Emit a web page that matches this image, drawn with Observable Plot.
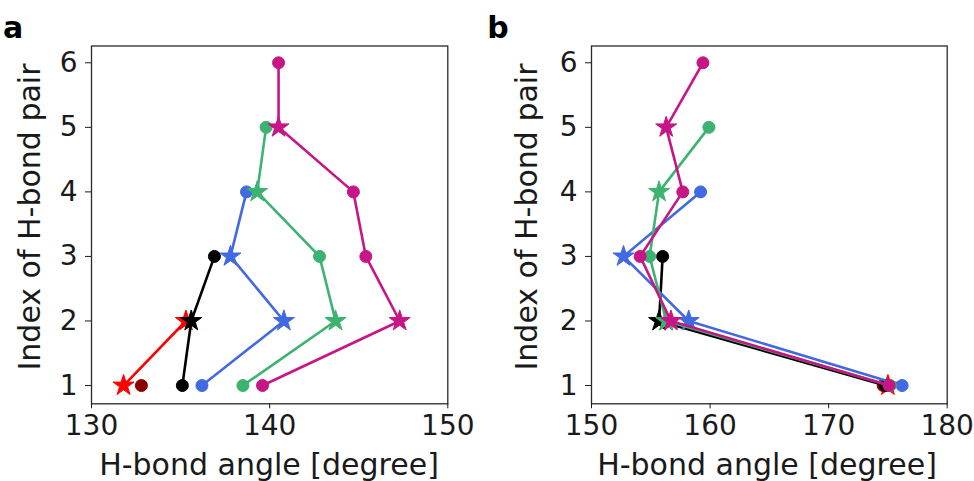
<!DOCTYPE html>
<html><head><meta charset="utf-8">
<script src="https://cdn.jsdelivr.net/npm/d3@7"></script>
<script src="https://cdn.jsdelivr.net/npm/@observablehq/plot@0.6"></script>
<style>
body{margin:0;background:#fff;}
#wrap{display:flex;width:974px;height:481px;overflow:hidden;}
</style></head><body><div id="wrap"></div>
<script>
// Series colours (drawing order: red, dark red, black, blue, green, magenta)
const seriesNames = ["red", "darkred", "black", "blue", "green", "magenta"];
const seriesColors = ["#ff0000", "#8b0000", "#000000", "#4169e1", "#3cb371", "#c71585"];
const pairIndex = [1, 2, 3, 4, 5, 6];
const yTicks = [1, 2, 3, 4, 5, 6];

// Marker type for each point of each series (index 1..n)
const symRed = ["star", "star"];
const symDarkred = ["circle"];
const symBlack = ["circle", "star", "circle"];
const symBlue = ["circle", "star", "star", "circle"];
const symGreen = ["circle", "star", "circle", "star", "circle"];
const symMagenta = ["circle", "star", "circle", "circle", "star", "circle"];

// Panel a: H-bond angles (degree)
const aRed = [131.8, 135.3];
const aDarkred = [132.8];
const aBlack = [135.1, 135.6, 136.9];
const aBlue = [136.2, 140.8, 137.8, 138.7];
const aGreen = [138.5, 143.7, 142.8, 139.3, 139.8];
const aMagenta = [139.6, 147.3, 145.4, 144.7, 140.5, 140.5];
const aTicks = [130, 140, 150];

// Panel b: H-bond angles (degree)
const bRed = [175.0, 156.3];
const bDarkred = [174.6];
const bBlack = [174.8, 155.7, 156.0];
const bBlue = [176.2, 158.2, 152.7, 159.2];
const bGreen = [175.2, 156.3, 154.9, 155.7, 159.9];
const bMagenta = [175.1, 156.7, 154.1, 157.7, 156.3, 159.4];
const bTicks = [150, 160, 170, 180];

const xLabel = "H-bond angle [degree]";
const yLabel = "Index of H-bond pair";

const symbols = [symRed, symDarkred, symBlack, symBlue, symGreen, symMagenta];

function seriesMarks(values) {
  const marks = [];
  values.forEach((vals, s) => {
    const rows = vals.map((v, i) => ({x: v, y: pairIndex[i], sym: symbols[s][i]}));
    const c = seriesColors[s];
    marks.push(Plot.line(rows, {x: "x", y: "y", stroke: c, strokeWidth: 2.6}));
    marks.push(Plot.dot(rows.filter(d => d.sym === "circle"), {x: "x", y: "y", r: 6, fill: c, stroke: c, strokeWidth: 1}));
    marks.push(Plot.dot(rows.filter(d => d.sym === "star"), {x: "x", y: "y", symbol: "star", r: 6.6, fill: c, stroke: c, strokeWidth: 1}));
  });
  return marks;
}

function panel({values, domain, ticks, width, marginLeft, marginRight, letter, letterX, yLabX, xLabCx}) {
  const svg = Plot.plot({
    width, height: 481,
    marginLeft, marginRight, marginTop: 45.5, marginBottom: 77.7,
    style: {fontFamily: "DejaVu Sans", fontSize: "28px", color: "#1a1a1a", background: "#fff"},
    x: {domain, ticks},
    y: {domain: [0.717, 6.26], ticks: yTicks},
    marks: [
      Plot.frame({stroke: "#2a2a2a", strokeWidth: 1.3}),
      Plot.axisX({ticks, tickSize: 5, tickPadding: 6, fontSize: 28, tickFormat: "d", label: null}),
      Plot.axisY({ticks: yTicks, tickSize: 6, tickPadding: 8, fontSize: 28, tickFormat: "d", label: null}),
      ...seriesMarks(values)
    ]
  });
  const s = d3.select(svg);
  s.append("text").attr("x", letterX).attr("y", 37.5)
    .attr("font-family", "DejaVu Sans").attr("font-weight", "bold").attr("font-size", 30)
    .attr("fill", "#000").text(letter);
  s.append("text").attr("transform", `translate(${yLabX},217) rotate(-90)`)
    .attr("text-anchor", "middle").attr("font-family", "DejaVu Sans").attr("font-size", 30)
    .attr("fill", "#1a1a1a").text(yLabel);
  s.append("text").attr("x", xLabCx).attr("y", 475)
    .attr("text-anchor", "middle").attr("font-family", "DejaVu Sans").attr("font-size", 30)
    .attr("fill", "#1a1a1a").text(xLabel);
  return svg;
}

const wrap = document.getElementById("wrap");
wrap.append(panel({
  values: [aRed, aDarkred, aBlack, aBlue, aGreen, aMagenta],
  domain: [130, 150], ticks: aTicks, width: 480, marginLeft: 91, marginRight: 32.7,
  letter: "a", letterX: 13, yLabX: 40, xLabCx: 269
}));
wrap.append(panel({
  values: [bRed, bDarkred, bBlack, bBlue, bGreen, bMagenta],
  domain: [150, 180], ticks: bTicks, width: 494, marginLeft: 111, marginRight: 27.3,
  letter: "b", letterX: 18, yLabX: 57, xLabCx: 287
}));
</script></body></html>
